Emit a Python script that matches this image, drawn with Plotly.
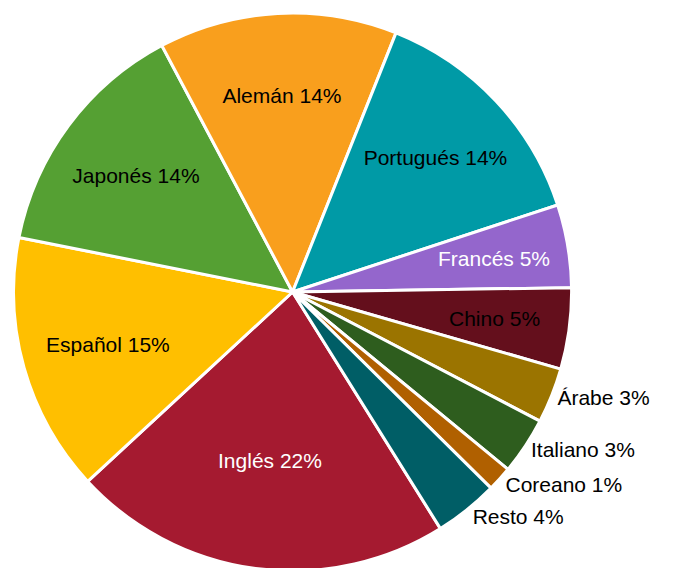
import math
import plotly.graph_objects as go

languages = ["Inglés", "Español", "Japonés", "Alemán", "Portugués", "Francés",
             "Chino", "Árabe", "Italiano", "Coreano", "Resto"]
shares = [22.0, 15.0, 14.1, 13.8, 13.9, 4.8, 4.7, 3.2, 3.3, 1.45, 3.7]
colors = ["#A51A30", "#FFBF00", "#55A033", "#F99F1D", "#009AA6", "#9466CC",
          "#640F1C", "#9B7400", "#2E5D1E", "#B06000", "#005E66"]
# how each label is drawn: built-in inside text, built-in outside text, or
# a label centred on the slice's middle (for thin slices)
label_modes = ["inside", "inside", "inside", "inside", "inside", "mid",
               "mid", "outside", "outside", "outside", "outside"]
text_colors = ["white", "black", "black", "black", "black", "white",
               "black", "black", "black", "black", "black"]

W, H = 675, 568
ROTATION = 148
FONT = "Liberation Sans, Arial, sans-serif"
FSIZE = 21
DOM_X = [4 / W, 564 / W]
DOM_Y = [4 / H, 564 / H]
MID_LABEL_RADIUS = 0.73

textpos = ["none" if m == "mid" else m for m in label_modes]

fig = go.Figure(go.Pie(
    labels=languages,
    values=shares,
    sort=False,
    direction="clockwise",
    rotation=ROTATION,
    marker=dict(colors=colors, line=dict(color="white", width=3)),
    texttemplate="%{label} %{percent:.0%}",
    textposition=textpos,
    insidetextorientation="horizontal",
    insidetextfont=dict(color=text_colors, size=FSIZE),
    outsidetextfont=dict(color="black", size=FSIZE),
    hoverinfo="none",
    showlegend=False,
    domain=dict(x=DOM_X, y=DOM_Y),
))

# labels for thin slices, placed on the slice's mid-angle
total = sum(shares)
cx = (DOM_X[0] + DOM_X[1]) / 2
cy = (DOM_Y[0] + DOM_Y[1]) / 2
R = min((DOM_X[1] - DOM_X[0]) * W, (DOM_Y[1] - DOM_Y[0]) * H) / 2
cum = 0.0
for lab, v, mode, col in zip(languages, shares, label_modes, text_colors):
    mid = math.radians(ROTATION + 360 * (cum + v / 2) / total)
    cum += v
    if mode != "mid":
        continue
    pct = round(100 * v / total)
    fig.add_annotation(
        x=cx + MID_LABEL_RADIUS * R * math.sin(mid) / W,
        y=cy + MID_LABEL_RADIUS * R * math.cos(mid) / H,
        xref="paper", yref="paper", showarrow=False,
        xanchor="center", yanchor="middle",
        text=f"{lab} {pct}%",
        font=dict(family=FONT, size=FSIZE, color=col),
    )

fig.update_layout(
    width=W, height=H,
    margin=dict(l=0, r=0, t=0, b=0),
    paper_bgcolor="white",
    plot_bgcolor="white",
    font=dict(family=FONT, size=FSIZE, color="black"),
    uniformtext=dict(minsize=FSIZE, mode="show"),
)

fig.write_html("out.html")
